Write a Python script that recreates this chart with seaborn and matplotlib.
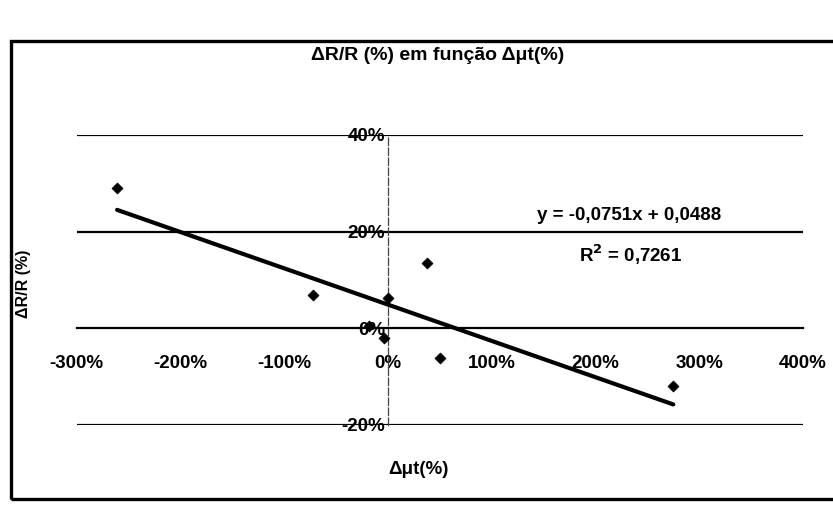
import matplotlib
matplotlib.use("Agg")
import matplotlib.pyplot as plt
from matplotlib.patches import Rectangle
from matplotlib.ticker import PercentFormatter, FixedLocator
import seaborn as sns
import pandas as pd

# Measured variations (as fractions)
delta_mut = [-2.61, -0.72, -0.18, -0.04, 0.00, 0.38, 0.50, 2.75]
delta_r = [0.290, 0.068, 0.004, -0.020, 0.062, 0.134, -0.062, -0.120]

# Linear trend reported on the chart
slope = -0.0751
intercept = 0.0488
r_squared = 0.7261

x_ticks = [-3, -2, -1, 0, 1, 2, 3, 4]
y_ticks = [-0.2, 0.0, 0.2, 0.4]

title = "ΔR/R (%) em função Δμt(%)"
x_label = "Δμt(%)"
y_label = "ΔR/R (%)"

sns.set_theme(style="white")
plt.rcParams["font.family"] = ["Liberation Sans Narrow", "Liberation Sans", "DejaVu Sans"]
plt.rcParams["font.weight"] = "bold"
plt.rcParams["text.color"] = "black"
plt.rcParams["xtick.color"] = "black"
plt.rcParams["ytick.color"] = "black"
plt.rcParams["axes.unicode_minus"] = False

df = pd.DataFrame({"x": delta_mut, "y": delta_r})
trend_x = [min(delta_mut), max(delta_mut)]
trend = pd.DataFrame({"x": trend_x,
                      "y": [slope * v + intercept for v in trend_x]})

fig = plt.figure(figsize=(8.33, 5.07), dpi=100)
ax = fig.add_axes([0.092, 0.162, 0.872, 0.572])

# horizontal gridlines
for yv in y_ticks:
    if yv != 0:
        ax.axhline(yv, color="black", lw=1.6, zorder=1)

sns.lineplot(data=trend, x="x", y="y", ax=ax, color="black", lw=3, zorder=3)
sns.scatterplot(data=df, x="x", y="y", ax=ax, marker="D", s=32,
                color="black", edgecolor="black", zorder=4)

ax.set_xlim(-3, 4)
ax.set_ylim(-0.2, 0.4)

for side in ["top", "right"]:
    ax.spines[side].set_visible(False)
ax.spines["left"].set_position(("data", 0))
ax.spines["bottom"].set_position(("data", 0))
ax.spines["left"].set_color("#444444")
ax.spines["left"].set_linewidth(0.9)
ax.spines["left"].set_linestyle((0, (6, 2)))
ax.spines["bottom"].set_color("black")
ax.spines["bottom"].set_linewidth(1.6)

ax.xaxis.set_major_locator(FixedLocator(x_ticks))
ax.yaxis.set_major_locator(FixedLocator(y_ticks))
ax.xaxis.set_major_formatter(PercentFormatter(1.0, decimals=0))
ax.yaxis.set_major_formatter(PercentFormatter(1.0, decimals=0))
ax.tick_params(axis="x", direction="out", length=5, width=1.2, color="black",
               labelsize=13.5, pad=14, labelcolor="black")
ax.tick_params(axis="y", length=0, labelsize=13.5, pad=2, labelcolor="black")
for lbl in ax.get_xticklabels() + ax.get_yticklabels():
    lbl.set_fontweight("bold")

ax.set_xlabel("")
ax.set_ylabel("")

# regression equation
ax.text(2.32, 0.234, "y = -0,0751x + 0,0488", ha="center", va="center",
        fontsize=13.5, fontweight="bold", color="black")
ax.text(2.34, 0.152, "R$^2$ = 0,7261", ha="center", va="center",
        fontsize=13.5, fontweight="bold", color="black")

fig.text(0.525, 0.89, title, ha="center", va="center",
         fontsize=14, fontweight="bold", color="black")
fig.text(0.502, 0.073, x_label, ha="center", va="center",
         fontsize=13.5, fontweight="bold", color="black")
fig.text(0.028, 0.44, y_label, ha="center", va="center", rotation=90,
         fontsize=11.5, fontweight="bold", color="black")

# chart frame
fig.patches.append(Rectangle((0.013, 0.015), 1.2, 0.905, transform=fig.transFigure,
                             fill=False, lw=2.4, ec="black"))

fig.savefig("out.png", dpi=100, facecolor="white")
